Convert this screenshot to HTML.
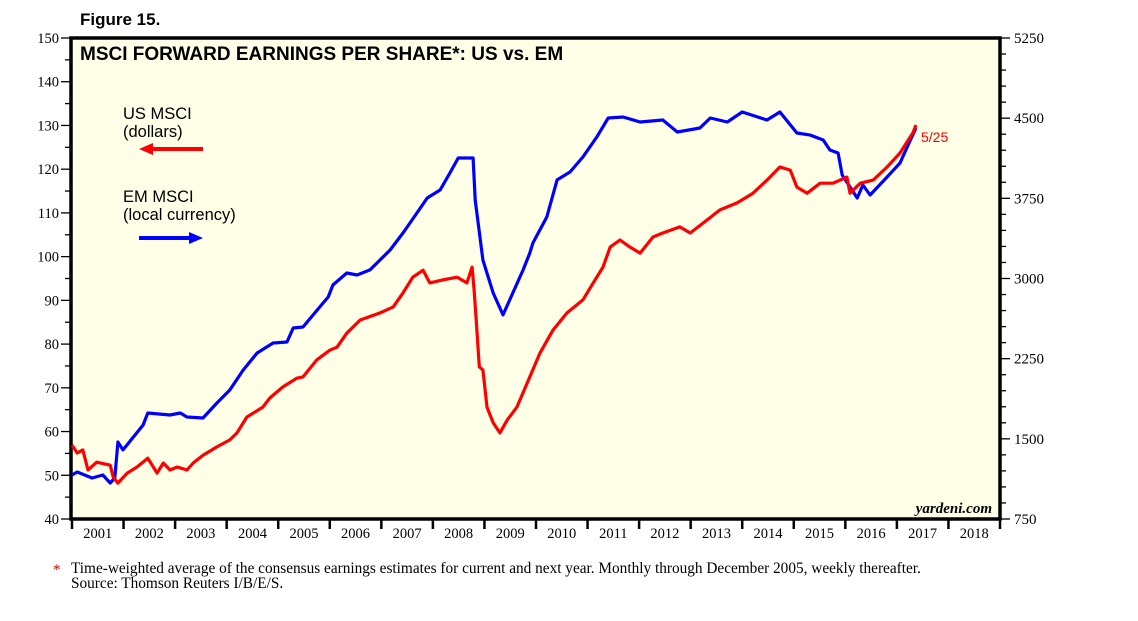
<!DOCTYPE html>
<html><head><meta charset="utf-8"><style>
body{margin:0;background:#fff;}
svg{display:block;}
</style></head><body>
<svg id="chart" width="1138" height="621" xmlns="http://www.w3.org/2000/svg">
<text x="80" y="25" font-family="Liberation Sans, sans-serif" font-weight="bold" font-size="17">Figure 15.</text>
<rect x="71" y="38" width="929" height="481" fill="#fffee6" stroke="#000" stroke-width="3.5"/>
<text x="80" y="60" font-family="Liberation Sans, sans-serif" font-weight="bold" font-size="19">MSCI FORWARD EARNINGS PER SHARE*: US vs. EM</text>
<g id="axes"></g>
<g id="series"></g>
<g font-family="Liberation Sans, sans-serif" font-size="16.5">
<text x="123" y="119">US MSCI</text>
<text x="123" y="137">(dollars)</text>
<line x1="150" y1="149" x2="203" y2="149" stroke="#f00" stroke-width="4"/>
<polygon points="139,149 153,143 153,155" fill="#f00"/>
<text x="123" y="202">EM MSCI</text>
<text x="123" y="220">(local currency)</text>
<line x1="139" y1="238" x2="192" y2="238" stroke="#00f" stroke-width="4"/>
<polygon points="203,238 189,232 189,244" fill="#00f"/>
</g>
<text x="921" y="142" font-family="Liberation Sans, sans-serif" font-size="14" fill="#f00">5/25</text>
<text x="992" y="513" text-anchor="end" font-family="Liberation Serif, serif" font-style="italic" font-weight="bold" font-size="15">yardeni.com</text>
<text x="53" y="574" font-family="Liberation Serif, serif" font-size="15" fill="#d00">*</text>
<text x="71" y="573" font-family="Liberation Serif, serif" font-size="15.3">Time-weighted average of the consensus earnings estimates for current and next year. Monthly through December 2005, weekly thereafter.</text>
<text x="71" y="588" font-family="Liberation Serif, serif" font-size="15.3">Source: Thomson Reuters I/B/E/S.</text>
</svg>
<script>
const years=[2001,2002,2003,2004,2005,2006,2007,2008,2009,2010,2011,2012,2013,2014,2015,2016,2017,2018];
const leftTicks=[40,50,60,70,80,90,100,110,120,130,140,150];
const rightTicks=[750,1500,2250,3000,3750,4500,5250];
const usDates=[2001.0,2001.1,2001.21,2001.31,2001.48,2001.74,2001.8,2001.89,2002.07,2002.26,2002.47,2002.65,2002.77,2002.9,2003.04,2003.23,2003.35,2003.54,2003.81,2004.06,2004.2,2004.39,2004.7,2004.84,2005.09,2005.36,2005.48,2005.75,2006.0,2006.14,2006.33,2006.59,2006.97,2007.23,2007.42,2007.61,2007.81,2007.94,2008.2,2008.47,2008.66,2008.76,2008.8,2008.84,2008.9,2008.97,2009.05,2009.17,2009.3,2009.44,2009.63,2009.88,2010.08,2010.33,2010.6,2010.91,2011.11,2011.3,2011.44,2011.63,2011.82,2012.02,2012.27,2012.46,2012.79,2012.99,2013.32,2013.57,2013.9,2014.21,2014.48,2014.73,2014.93,2015.06,2015.26,2015.51,2015.76,2016.03,2016.09,2016.29,2016.54,2016.81,2017.06,2017.31,2017.37];
const usValues=[56.9,55.1,55.8,51.2,53.0,52.3,49.6,48.2,50.5,51.9,53.9,50.5,52.8,51.2,51.9,51.2,52.8,54.6,56.5,58.1,59.7,63.3,65.6,67.7,70.2,72.2,72.5,76.4,78.6,79.3,82.5,85.5,87.1,88.5,91.7,95.3,96.9,94.0,94.7,95.3,94.0,97.6,92.4,85.5,74.8,74.1,65.6,62.0,59.7,62.6,65.6,72.5,78.0,83.2,87.1,90.1,94.0,97.6,102.2,103.8,102.2,100.8,104.5,105.4,106.8,105.4,108.4,110.7,112.3,114.5,117.5,120.5,119.8,115.9,114.5,116.8,116.8,118.2,114.5,116.8,117.5,120.5,123.7,128.3,130.1];
const emDates=[2001.0,2001.1,2001.39,2001.6,2001.74,2001.83,2001.89,2001.99,2002.38,2002.47,2002.9,2003.1,2003.23,2003.54,2003.81,2004.06,2004.32,2004.59,2004.9,2005.17,2005.29,2005.48,2005.87,2005.97,2006.06,2006.33,2006.53,2006.78,2007.17,2007.42,2007.69,2007.89,2008.14,2008.33,2008.49,2008.78,2008.82,2008.97,2009.17,2009.36,2009.55,2009.75,2009.88,2009.94,2010.21,2010.41,2010.66,2010.91,2011.18,2011.4,2011.69,2012.02,2012.46,2012.74,2013.18,2013.38,2013.71,2014.0,2014.48,2014.73,2015.06,2015.32,2015.57,2015.7,2015.86,2015.94,2016.23,2016.34,2016.48,2016.81,2017.06,2017.2,2017.37];
const emValues=[1162,1190,1134,1162,1087,1134,1470,1396,1629,1742,1723,1742,1704,1695,1835,1957,2144,2303,2397,2406,2537,2546,2771,2827,2939,3051,3033,3080,3267,3426,3613,3753,3828,3987,4127,4127,3734,3173,2864,2659,2864,3080,3239,3332,3575,3922,3996,4137,4324,4502,4511,4464,4483,4371,4408,4502,4464,4558,4483,4558,4361,4342,4296,4202,4174,3968,3753,3875,3781,3950,4081,4230,4408];

const X0=72,X1=1000,Y0=519,Y1=38;
const xScale=d=>X0+(d-2001)/(2019-2001)*(X1-X0);
const yLeft=v=>Y0-(v-40)/(150-40)*(Y0-Y1);
const yRight=v=>Y0-(v-750)/(5250-750)*(Y0-Y1);
const NS='http://www.w3.org/2000/svg';
const axes=document.getElementById('axes');
const series=document.getElementById('series');
function mk(tag,attrs,parent){const e=document.createElementNS(NS,tag);for(const k in attrs)e.setAttribute(k,attrs[k]);parent.appendChild(e);return e;}

for(let v=40;v<=150;v+=5){
  const y=yLeft(v);const major=v%10===0;
  const t=mk('line',{x1:major?61:65,x2:71,y1:y,y2:y,stroke:'#000','stroke-width':1.3},axes);
  
  
}
leftTicks.forEach(v=>{
  const t=mk('text',{x:59,y:yLeft(v)+5,'text-anchor':'end','font-family':'Liberation Serif, serif','font-size':14.5},axes);
  t.textContent=v;
  
  
});
for(let v=750;v<=5250;v+=150){
  const y=yRight(v);const major=(v-750)%750===0;
  const t=mk('line',{x1:1000,x2:major?1010:1006,y1:y,y2:y,stroke:'#000','stroke-width':1.3},axes);
  
  
}
rightTicks.forEach(v=>{
  const t=mk('text',{x:1014,y:yRight(v)+5,'font-family':'Liberation Serif, serif','font-size':15},axes);
  t.textContent=v;
  
  
});
years.forEach(yr=>{
  const x=xScale(yr);
  const t=mk('line',{x1:x,x2:x,y1:519,y2:529,stroke:'#000','stroke-width':2.5},axes);
  
  
  const l=mk('text',{x:xScale(yr+0.5),y:538,'text-anchor':'middle','font-family':'Liberation Serif, serif','font-size':14.5},axes);
  l.textContent=yr;
  
  
});
{const t=mk('line',{x1:1000,x2:1000,y1:519,y2:529,stroke:'#000','stroke-width':2.5},axes);

}

function line(dates,vals,ys,color,name){
  const d=dates.map((dt,i)=>(i?'L':'M')+xScale(dt).toFixed(1)+','+ys(vals[i]).toFixed(1)).join('');
  const p=mk('path',{d:d,fill:'none',stroke:color,'stroke-width':3.2,'stroke-linejoin':'round'},series);
  
  
}
line(emDates,emValues,yRight,'#0000ff','em-msci-line');
line(usDates,usValues,yLeft,'#ff0000','us-msci-line');
</script>
</body></html>
